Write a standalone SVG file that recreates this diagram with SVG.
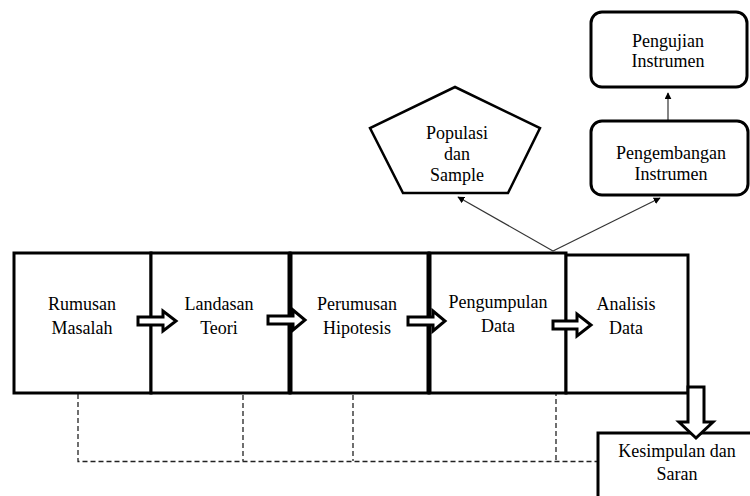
<svg xmlns="http://www.w3.org/2000/svg" width="750" height="496" viewBox="0 0 750 496">
<defs>
<style>
text{font-family:"Liberation Serif","Times New Roman",serif;font-size:18px;fill:#000;text-anchor:middle}
.box{fill:#fff;stroke:#000;stroke-width:3}
.rbox{fill:#fff;stroke:#000;stroke-width:3}
.hol{fill:#fff;stroke:#000;stroke-width:3;stroke-linejoin:miter}
.thin{stroke:#333;stroke-width:1.2;fill:none}
.dash{stroke:#222;stroke-width:1.3;fill:none;stroke-dasharray:5 3}
</style>
<marker id="ah" viewBox="0 0 10 10" refX="9" refY="5" markerWidth="7" markerHeight="7" orient="auto" markerUnits="userSpaceOnUse">
<path d="M0,0 L10,5 L0,10 z" fill="#000"/>
</marker>
</defs>
<rect width="750" height="496" fill="#fff"/>

<g id="connectors">
<line class="thin" x1="553" y1="251" x2="458" y2="197" marker-end="url(#ah)"/>
<line class="thin" x1="553" y1="251" x2="660" y2="198" marker-end="url(#ah)"/>
<line class="thin" x1="668" y1="122" x2="668" y2="93" marker-end="url(#ah)"/>
<path class="dash" d="M78,394 V461.5 H598"/>
<line class="dash" x1="243" y1="387" x2="243" y2="461"/>
<line class="dash" x1="353" y1="387" x2="353" y2="461"/>
<line class="dash" x1="556" y1="391" x2="556" y2="462"/>
</g>

<g id="rumusan">
<rect class="box" x="14" y="253" width="137" height="140"/>
<text x="82" y="310">Rumusan</text>
<text x="82" y="334">Masalah</text>
</g>
<g id="landasan">
<rect class="box" x="151" y="253" width="139" height="140"/>
<text x="219" y="310">Landasan</text>
<text x="219" y="334">Teori</text>
</g>
<g id="perumusan">
<rect class="box" x="290" y="253" width="139" height="140"/>
<text x="357" y="310">Perumusan</text>
<text x="357" y="334">Hipotesis</text>
</g>
<g id="pengumpulan">
<rect class="box" x="429" y="253" width="137" height="140"/>
<text x="498" y="308">Pengumpulan</text>
<text x="498" y="332">Data</text>
</g>
<g id="analisis">
<rect class="box" x="566" y="255" width="122" height="138"/>
<text x="626" y="310">Analisis</text>
<text x="626" y="334">Data</text>
</g>
<line x1="290" y1="253" x2="290" y2="393" stroke="#000" stroke-width="5"/>
<line x1="429" y1="253" x2="429" y2="393" stroke="#000" stroke-width="5"/>

<g id="kesimpulan">
<rect class="box" x="598" y="433" width="160" height="70"/>
<text x="677" y="457">Kesimpulan dan</text>
<text x="677" y="480">Saran</text>
</g>

<g id="arrows">
<path class="hol" d="M138,317 H163 V311 L176,321 L163,331 V325 H138 Z"/>
<path class="hol" d="M268,316 H293 V310 L305,320 L293,330 V324 H268 Z"/>
<path class="hol" d="M408,317 H433 V311 L445,321 L433,331 V325 H408 Z"/>
<path class="hol" d="M553,321 H577 V314 L591,325 L577,336 V329 H553 Z"/>
<path class="hol" d="M688,387 H704 V422 H713 L696,438 L679,422 H688 Z"/>
</g>

<g id="populasi">
<polygon points="455,87 540,128 508,193 403,193 370,128" fill="#fff" stroke="#000" stroke-width="2.5"/>
<text x="457" y="139">Populasi</text>
<text x="457" y="160">dan</text>
<text x="457" y="181">Sample</text>
</g>

<g id="pengembangan">
<rect class="rbox" x="591" y="121" width="157" height="74" rx="11"/>
<text x="671" y="159">Pengembangan</text>
<text x="671" y="180">Instrumen</text>
</g>

<g id="pengujian">
<rect class="rbox" x="591" y="12" width="156" height="75" rx="11"/>
<text x="668" y="47">Pengujian</text>
<text x="668" y="67">Instrumen</text>
</g>
</svg>
